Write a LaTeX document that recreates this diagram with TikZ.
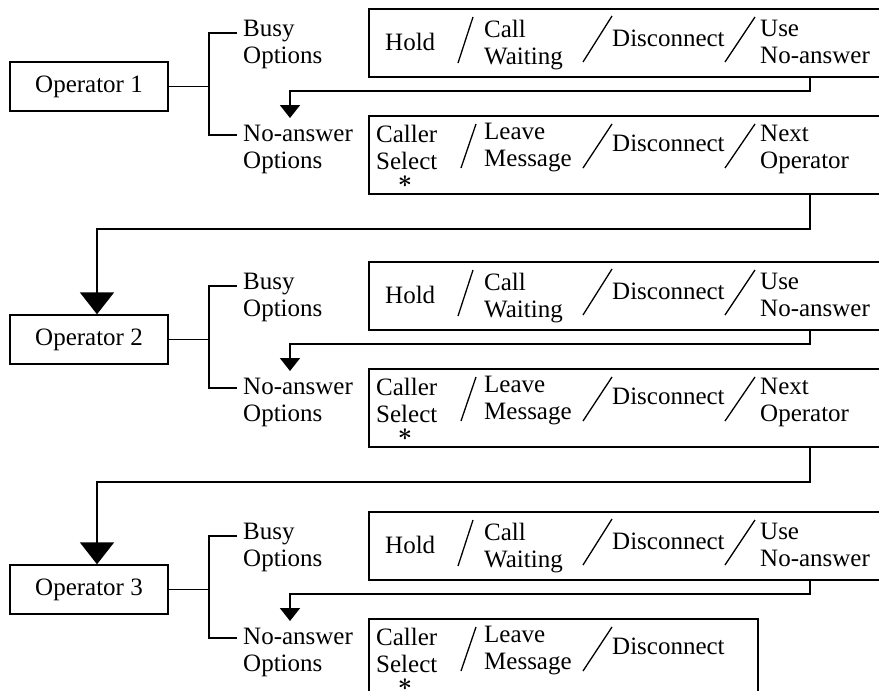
\documentclass[tikz,border=0pt]{standalone}
\usepackage{fontspec}
\setmainfont{Liberation Serif}
\usetikzlibrary{arrows.meta}
\begin{document}
\begin{tikzpicture}[x=1pt,y=-1pt,
  lbl/.style={anchor=north west,inner sep=0pt,align=left,font=\fontsize{25}{26.5}\selectfont},
  starlbl/.style={anchor=center,inner sep=0pt,font=\fontsize{32}{32}\selectfont\boldmath},
  opbox/.style={draw,line width=1.4pt,minimum width=158pt,minimum height=49pt,inner sep=0pt,font=\fontsize{25}{26.5}\selectfont},
  optbox/.style={draw,line width=1.5pt,anchor=north west,inner sep=0pt},
  brk/.style={line width=1.3pt},
  slashln/.style={line width=1.3pt},
  conn/.style={line width=2pt},
  smallarr/.style={conn,-{Triangle[width=20pt,length=13pt]}},
  bigarr/.style={conn,-{Triangle[width=34pt,length=22pt]}},
]
\useasboundingbox (0,0) rectangle (879,691);
\fill[white] (0,0) rectangle (879,691);

\foreach \i/\off in {1/0,2/253,3/503}{
\begin{scope}[yshift=-\off pt]
  \node[opbox] (op\i) at (89,86.5) {Operator \i};
  \coordinate (fork\i) at (209,86.5);
  \coordinate (bt\i) at (209,33);
  \coordinate (bb\i) at (209,135);
  \draw[brk] (op\i.east) -- (fork\i);
  \draw[brk] (237,33) -- (bt\i) -- (bb\i) -- (237,135);
  \node[lbl] (busy\i) at (243,20) {Busy\\Options};
  \node[lbl] (noans\i) at (243,125) {No-answer\\Options};
  % busy options box
  \node[optbox,minimum width=540pt,minimum height=68pt] (bbox\i) at (368,8) {};
  \node[lbl] (hold\i) at (385,33) {Hold};
  \draw[slashln] (458,63) -- (473,17);
  \node[lbl] (cw\i) at (484,20) {Call\\Waiting};
  \draw[slashln] (583,62) -- (612,16);
  \node[lbl] (disb\i) at (612,30) {Disconnect};
  \draw[slashln] (725,62) -- (755,17);
  \node[lbl] (use\i) at (760,20) {Use\\No-answer};
  % no-answer options
  \node[lbl] (cs\i) at (376,125) {Caller\\Select};
  \node[starlbl] (star\i) at (405,182) {$\ast$};
  \draw[slashln] (461,168) -- (476,124);
  \node[lbl] (lm\i) at (484,123) {Leave\\Message};
  \draw[slashln] (583,168) -- (612,124);
  \node[lbl] (disn\i) at (612,135) {Disconnect};
  % loop busy -> no-answer
  \coordinate (ua\i) at (810,76);
  \coordinate (ub\i) at (810,91);
  \coordinate (uc\i) at (290,91);
  \coordinate (ud\i) at (290,118);
  \draw[smallarr] (ua\i) -- (ub\i) -- (uc\i) -- (ud\i);
\end{scope}
}

\foreach \i/\off in {1/0,2/253}{
\begin{scope}[yshift=-\off pt]
  \node[optbox,minimum width=540pt,minimum height=78pt] (nbox\i) at (368,115) {};
  \draw[slashln] (725,168) -- (755,124);
  \node[lbl] (next\i) at (760,125) {Next\\Operator};
  \coordinate (na\i) at (810,193);
  \coordinate (nb\i) at (810,229);
  \coordinate (nc\i) at (97,229);
\end{scope}
}
\node[optbox,minimum width=389pt,minimum height=120pt] (nbox3) at (368,618) {};

\draw[bigarr] (na1) -- (nb1) -- (nc1) -- (nc1 |- op2.north);
\draw[bigarr] (na2) -- (nb2) -- (nc2) -- (nc2 |- op3.north);
\end{tikzpicture}
\end{document}
